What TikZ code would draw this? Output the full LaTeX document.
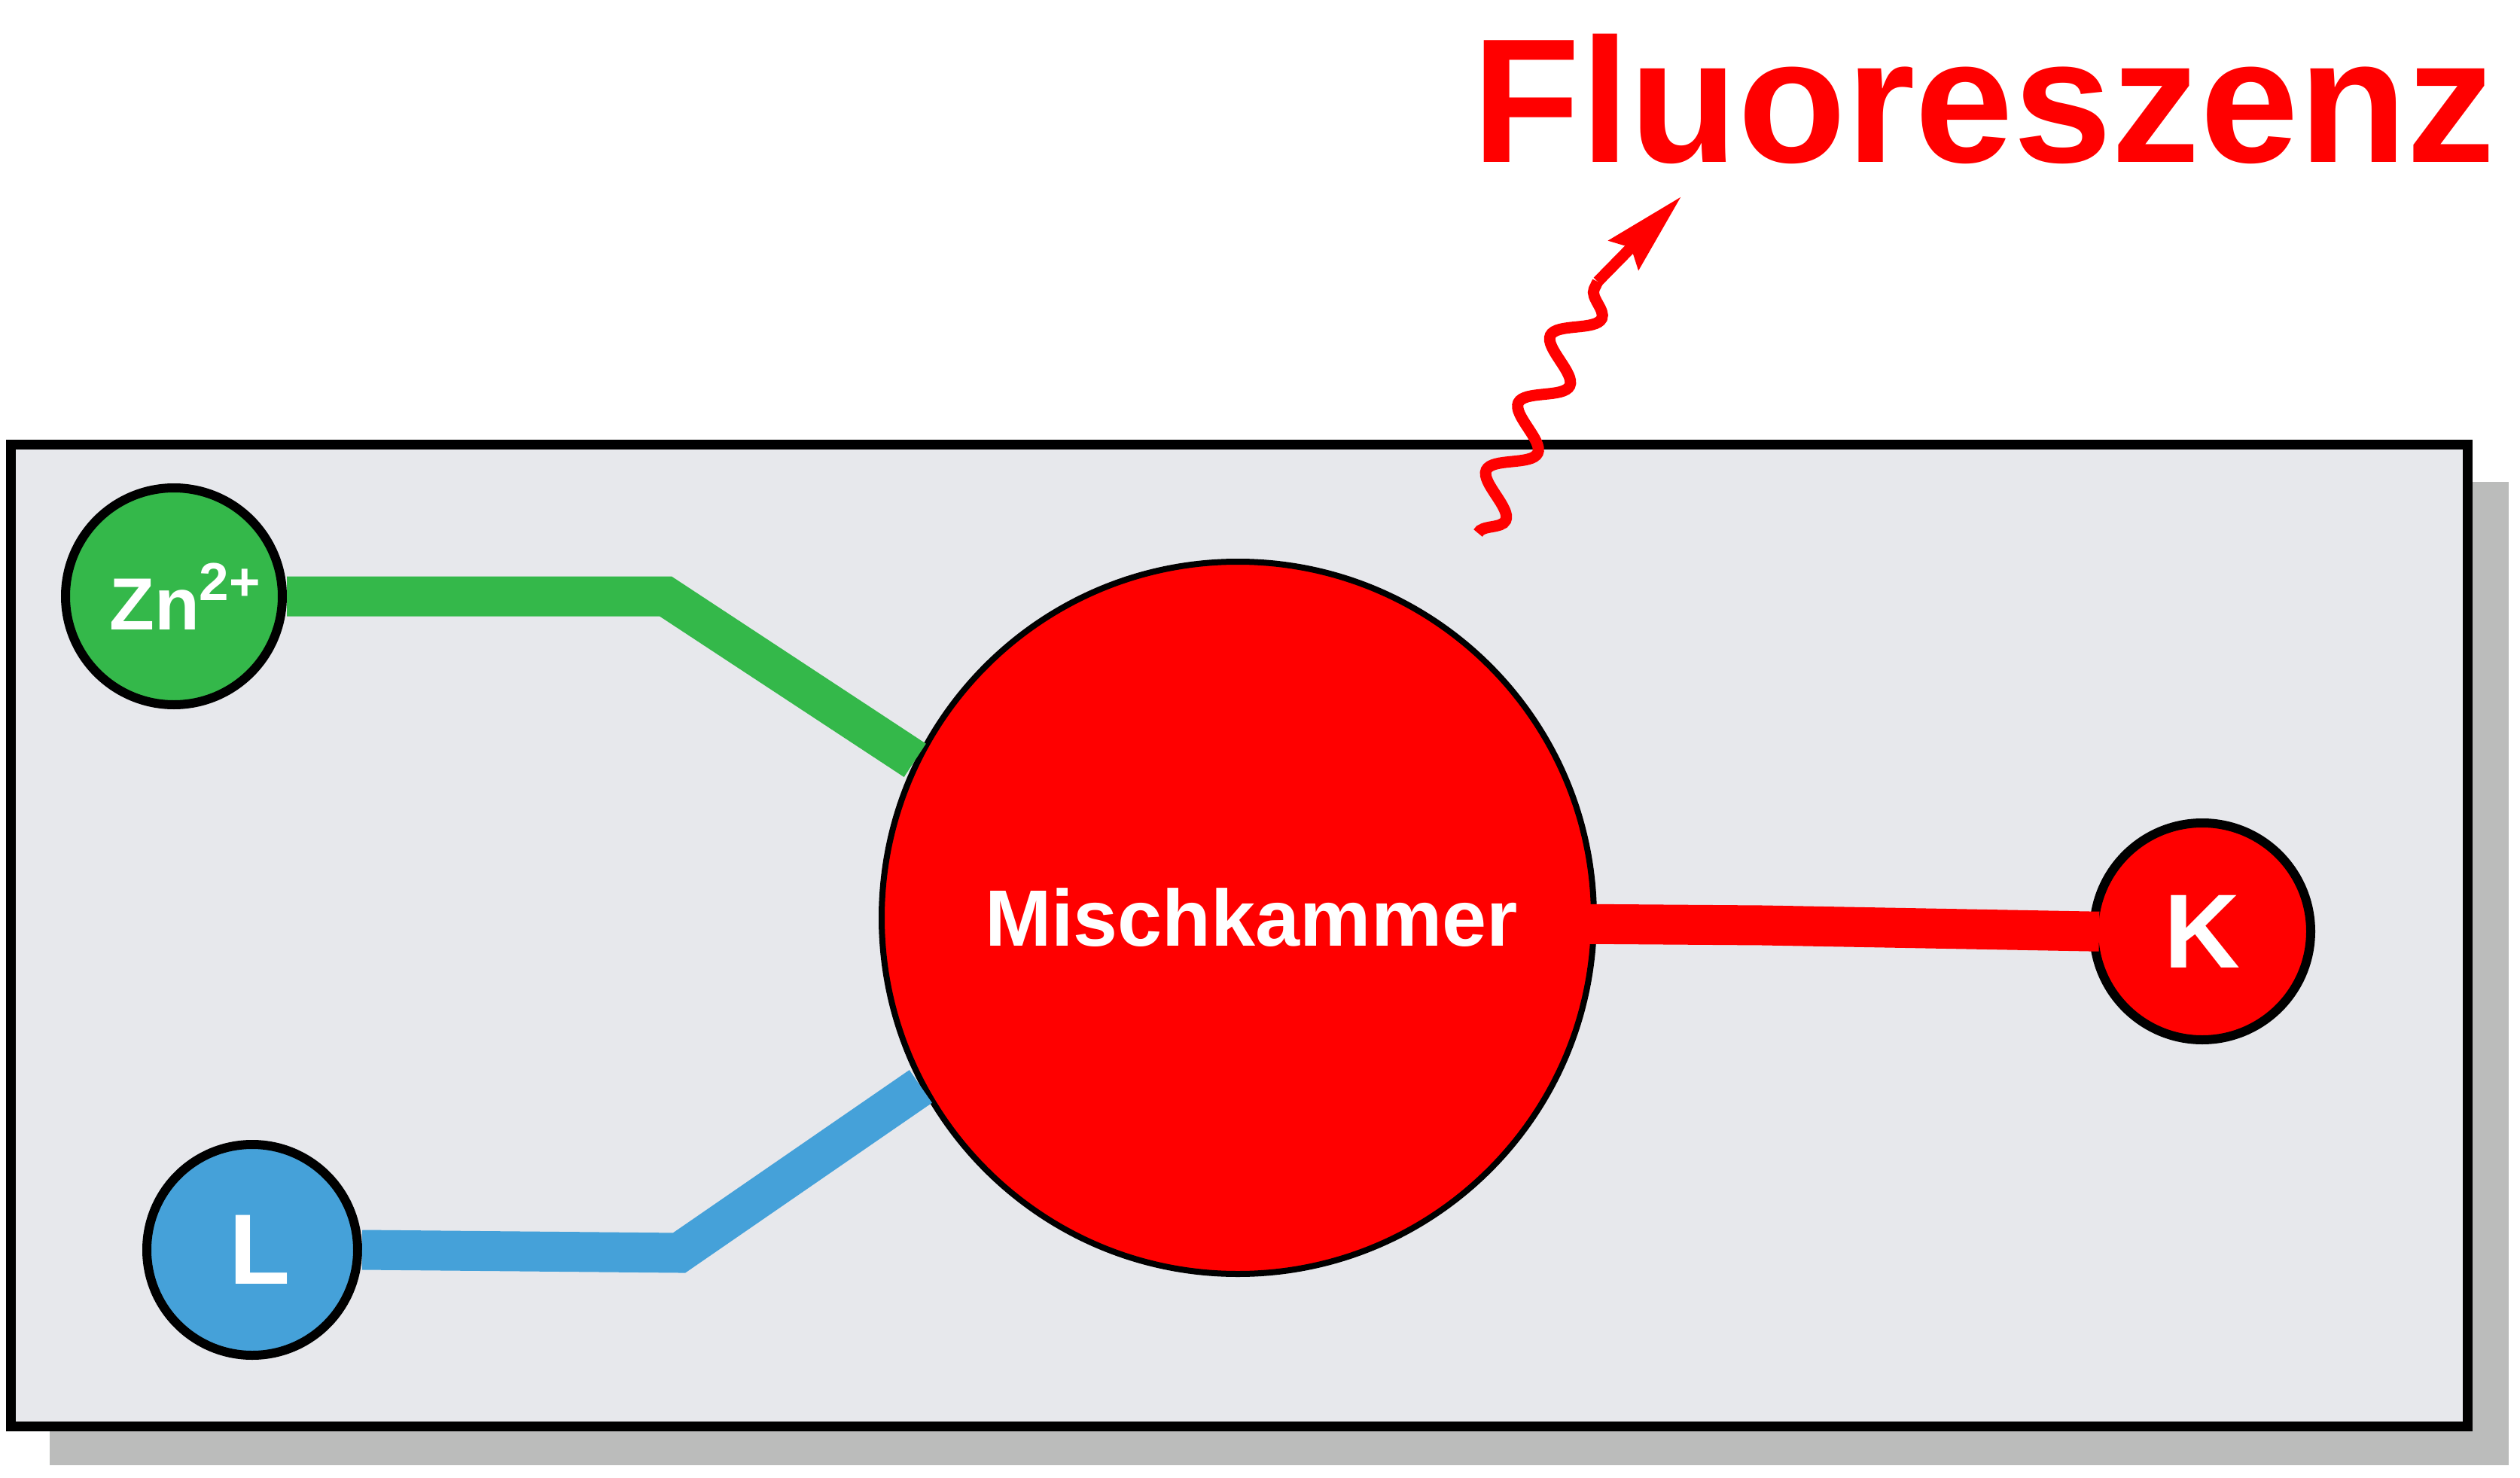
\documentclass[tikz,border=0pt]{standalone}
\usepackage{fontspec}
\setmainfont{Liberation Sans}
\usetikzlibrary{arrows.meta,decorations.pathmorphing}

\definecolor{zngreen}{HTML}{34B84A}
\definecolor{ligblue}{HTML}{45A1D9}
\definecolor{fluored}{HTML}{FF0000}
\definecolor{chipgray}{HTML}{E7E8EC}
\definecolor{shadowgray}{HTML}{BBBCBB}

\tikzset{
  ion/.style={circle, draw=black, line width=0.12cm, inner sep=0pt,
    minimum size=2.88cm, text=white, font=\bfseries},
  pipe/.style={line width=0.53cm, line join=miter},
}

\begin{document}
\begin{tikzpicture}
  \useasboundingbox (0,0) rectangle (33.47,-19.63);
  % chip with shadow
  \fill[shadowgray] (0.66,-6.40) rectangle (33.32,-19.46);
  \draw[line width=0.13cm, fill=chipgray] (0.147,-5.908) rectangle (32.775,-18.945);

  % reservoirs and mixing chamber
  \node[ion, fill=zngreen] (zn) at (2.31,-7.92)
    {\fontsize{27.9}{30}\selectfont\hspace*{0.29cm}Zn\raisebox{0.39cm}{\fontsize{20.2}{22}\selectfont 2+}};
  \node[ion, fill=ligblue, minimum size=2.80cm] (lig) at (3.35,-16.60)
    {\fontsize{37.8}{40}\selectfont\hspace*{0.2cm}L};
  \node[ion, fill=fluored] (kan) at (29.25,-12.37) {\fontsize{39.8}{42}\selectfont K};
  \node[ion, fill=fluored, line width=0.08cm, minimum size=9.46cm] (misch) at (16.44,-12.19)
    {\fontsize{30.2}{32}\selectfont\hspace*{0.36cm}Mischkammer};

  % channels
  \draw[pipe, zngreen] (zn.east) -- (8.84,-7.92) -- (misch.154.8);
  \draw[pipe, ligblue] (lig.east) -- (9.02,-16.64) -- (misch.208.3);
  \draw[pipe, fluored, shorten <=-0.11cm, shorten >=-0.13cm] (misch.-1.7) -- (23.41,-12.29) -- (kan.west);

  % emitted light
  \coordinate (wave0) at (19.63,-7.08);
  \coordinate (wave1) at (21.22,-3.74);
  \coordinate (tip) at (22.33,-2.61);
  \draw[fluored, line width=0.15cm, decorate,
    decoration={snake, amplitude=0.26cm, segment length=0.99cm, mirror}] (wave0) -- (wave1);
  \draw[fluored, line width=0.15cm, -{Stealth[length=1.08cm, width=0.54cm, inset=0.13cm]}] (wave1) -- (tip);
  \node[fluored, font=\bfseries\fontsize{66.9}{70}\selectfont, anchor=base west, inner sep=0pt] (fluo)
    at (19.55,-2.16) {Fluoreszenz};
\end{tikzpicture}
\end{document}
